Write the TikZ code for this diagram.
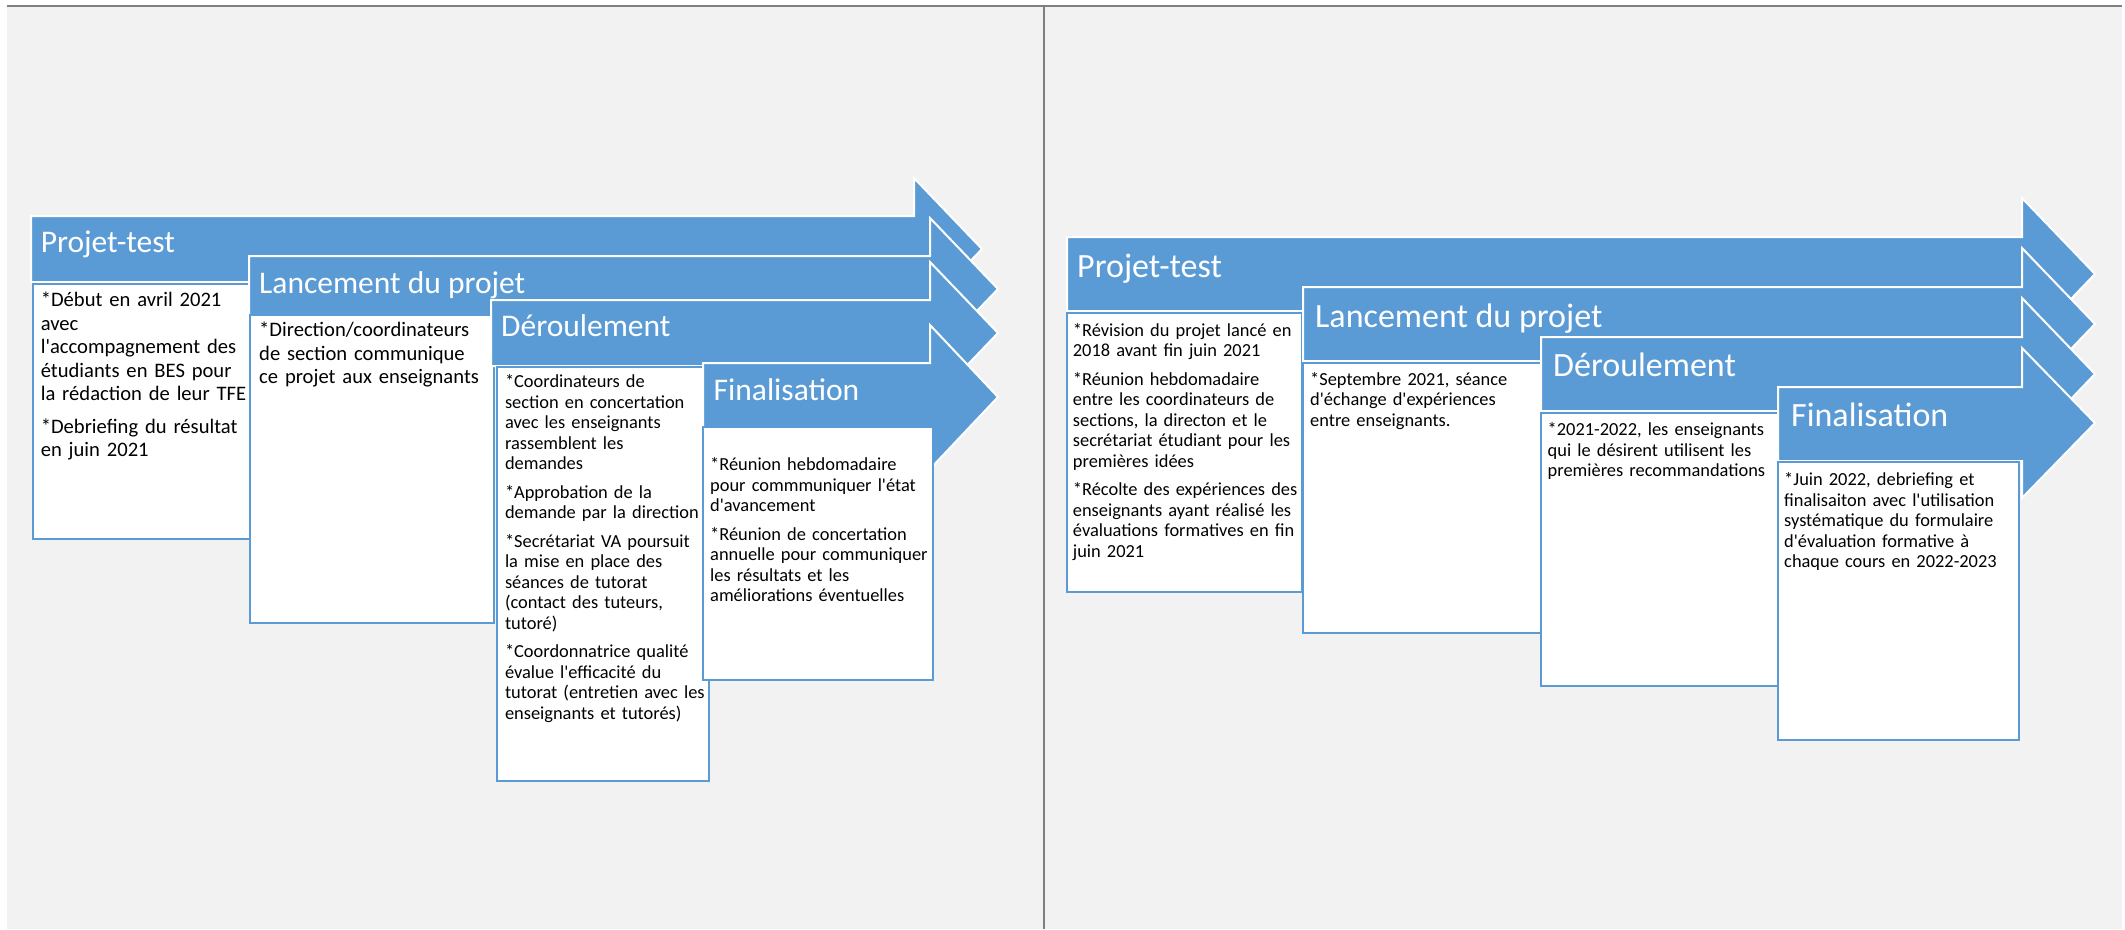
\documentclass[tikz,border=0pt]{standalone}
\usepackage{fontspec}
\setmainfont{Carlito}[Ligatures=TeXOff]
\usepackage{tikz}
\definecolor{bleu}{HTML}{5B9BD5}
\definecolor{fond}{HTML}{F2F2F2}
\definecolor{trait}{HTML}{7F7F7F}

\begin{document}
\begin{tikzpicture}[x=1pt, y=-1pt,
  fleche/.style={fill=bleu, draw=white, line width=2pt, line join=miter},
  cadre/.style={fill=white, draw=bleu, line width=2.7pt},
  titre/.style={anchor=base west, inner sep=0pt, text=white, font=\fontsize{31.5}{36}\selectfont},
  grandtitre/.style={titre, font=\fontsize{34}{40}\selectfont},
  grand/.style={anchor=base west, inner sep=0pt, text width=300pt, align=left, font=\fontsize{20.6}{23.5}\selectfont},
  petit/.style={grand, font=\fontsize{18.4}{20.5}\selectfont}]
\useasboundingbox (0,0) rectangle (2125,929);
\fill[white] (0,0) rectangle (2125,929);
\fill[fond] (7,7) rectangle (2122,929);
\draw[trait, line width=2pt] (7,6) -- (2122,6);
\draw[trait, line width=1.5pt] (1044,6) -- (1044,929);

% panneau gauche
\filldraw[fleche] (31,216) -- (914,216) -- (914,178) -- (982,249) -- (914,320) -- (914,282) -- (31,282) -- cycle;
\filldraw[cadre] (33,284) rectangle (250,539);
\node[titre] (g1) at (40.6,252) {Projet-test};
\node[grand] (tg1) at (40.6,306.7) {*Début en avril 2021\\ avec\\ l'accompagnement des\\ étudiants en BES pour\\ la rédaction de leur TFE\\[9pt] *Debriefing du résultat\\ en juin 2021};

\filldraw[fleche] (249,256) -- (930,256) -- (930,218) -- (998,289) -- (930,360) -- (930,322) -- (249,322) -- cycle;
\filldraw[cadre] (250,315) rectangle (494,623);
\node[titre] (g2) at (259,293) {Lancement du projet};
\node[grand] (tg2) at (259,336.7) {*Direction/coordinateurs\\ de section communique\\ ce projet aux enseignants};

\filldraw[fleche] (491,300) -- (930,300) -- (930,262) -- (998,333) -- (930,404) -- (930,366) -- (491,366) -- cycle;
\filldraw[cadre] (497,367) rectangle (709,781);
\node[titre] (g3) at (501,336) {Déroulement};
\node[petit] (tg3) at (504.8,387.5) {*Coordinateurs de\\ section en concertation\\ avec les enseignants\\ rassemblent les\\ demandes\\[8pt] *Approbation de la\\ demande par la direction\\[8pt] *Secrétariat VA poursuit\\ la mise en place des\\ séances de tutorat\\ (contact des tuteurs,\\ tutoré)\\[8pt] *Coordonnatrice qualité\\ évalue l'efficacité du\\ tutorat (entretien avec les\\ enseignants et tutorés)};

\filldraw[fleche] (703,363) -- (930,363) -- (930,325) -- (998,397) -- (930,469) -- (930,431) -- (703,431) -- cycle;
\filldraw[cadre] (703,427) rectangle (933,680);
\node[titre] (g4) at (713.5,400) {Finalisation};
\node[petit] (tg4) at (710,470.5) {*Réunion hebdomadaire\\ pour commmuniquer l'état\\ d'avancement\\[8pt] *Réunion de concertation\\ annuelle pour communiquer\\ les résultats et les\\ améliorations éventuelles};

% panneau droit
\filldraw[fleche] (1067,237) -- (2022,237) -- (2022,198) -- (2095,274) -- (2022,350) -- (2022,311) -- (1067,311) -- cycle;
\filldraw[cadre] (1067,313) rectangle (1302,592);
\node[grandtitre] (d1) at (1077,277) {Projet-test};
\node[petit] (td1) at (1072.7,336) {*Révision du projet lancé en\\ 2018 avant fin juin 2021\\[8pt] *Réunion hebdomadaire\\ entre les coordinateurs de\\ sections, la directon et le\\ secrétariat étudiant pour les\\ premières idées\\[8pt] *Récolte des expériences des\\ enseignants ayant réalisé les\\ évaluations formatives en fin\\ juin 2021};

\filldraw[fleche] (1303,287) -- (2022,287) -- (2022,248) -- (2095,324) -- (2022,400) -- (2022,361) -- (1303,361) -- cycle;
\filldraw[cadre] (1303,363) rectangle (1541,633);
\node[grandtitre] (d2) at (1315,327) {Lancement du projet};
\node[petit] (td2) at (1310,385) {*Septembre 2021, séance\\ d'échange d'expériences\\ entre enseignants.};

\filldraw[fleche] (1541,337) -- (2022,337) -- (2022,298) -- (2095,374) -- (2022,450) -- (2022,411) -- (1541,411) -- cycle;
\filldraw[cadre] (1541,413) rectangle (1778,686);
\node[grandtitre] (d3) at (1553,376) {Déroulement};
\node[petit] (td3) at (1547.5,435.5) {*2021-2022, les enseignants\\ qui le désirent utilisent les\\ premières recommandations};

\filldraw[fleche] (1778,387) -- (2022,387) -- (2022,348) -- (2095,423) -- (2022,498) -- (2022,461) -- (1778,461) -- cycle;
\filldraw[cadre] (1778,462) rectangle (2019,740);
\node[grandtitre] (d4) at (1791,426) {Finalisation};
\node[petit] (td4) at (1784,485.5) {*Juin 2022, debriefing et\\ finalisaiton avec l'utilisation\\ systématique du formulaire\\ d'évaluation formative à\\ chaque cours en 2022-2023};
\end{tikzpicture}
\end{document}
